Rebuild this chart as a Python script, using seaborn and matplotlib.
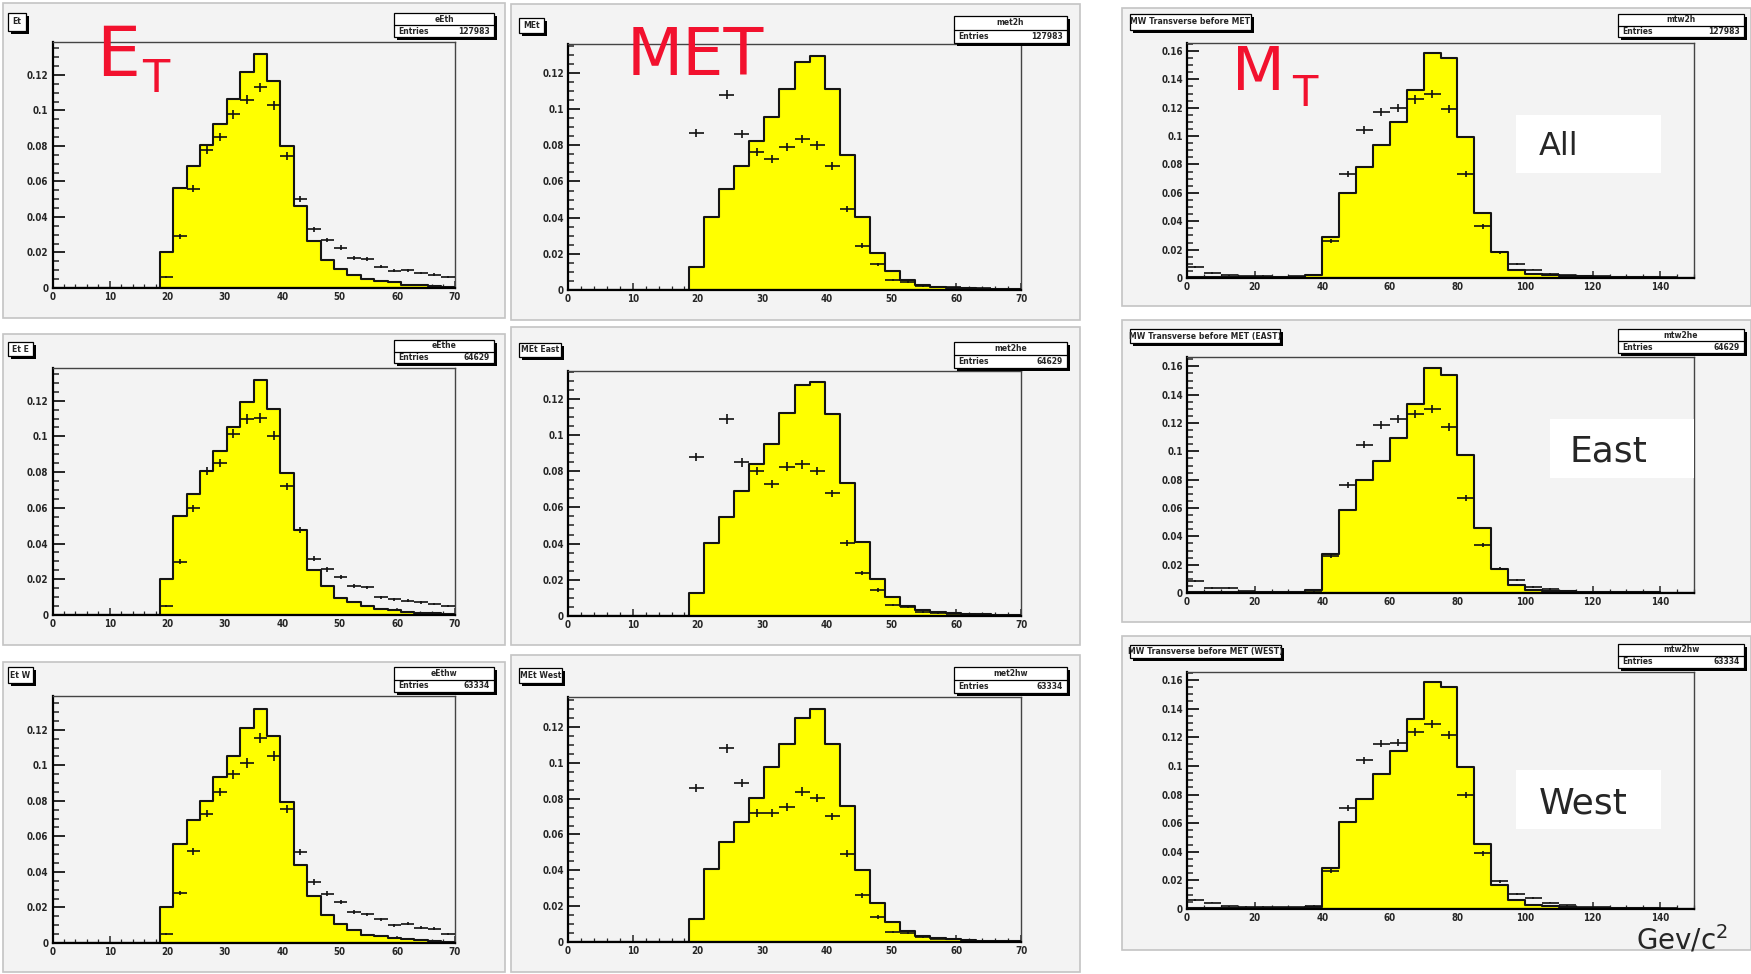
import numpy as np
import pandas as pd
import matplotlib
matplotlib.use("Agg")
import matplotlib.pyplot as plt
from matplotlib.patches import Rectangle
from matplotlib.lines import Line2D
from matplotlib.ticker import MultipleLocator, FuncFormatter
import seaborn as sns

nan = np.nan
W, H = 1751, 974

# ---------------- data (30 bins per histogram) ----------------
et_all_mc = [0, 0, 0, 0, 0, 0, 0, 0, 0.0202, 0.0564, 0.0688, 0.0807, 0.0925, 0.1063, 0.1215, 0.1318,
             0.1163, 0.0800, 0.0464, 0.0262, 0.0159, 0.0107, 0.0075, 0.0050, 0.0041, 0.0032, 0.0019,
             0.0017, 0.0009, 0.0006]
et_all_data = [nan] * 8 + [0.0060, 0.0290, 0.0560, 0.0776, 0.0850, 0.0978, 0.1060, 0.1130, 0.1028,
                           0.0742, 0.0500, 0.0330, 0.0270, 0.0228, 0.0168, 0.0163, 0.0121, 0.0097,
                           0.0099, 0.0084, 0.0075, 0.0060]
et_east_mc = [0, 0, 0, 0, 0, 0, 0, 0, 0.0200, 0.0557, 0.0677, 0.0807, 0.0920, 0.1050, 0.1193, 0.1314,
              0.1155, 0.0794, 0.0477, 0.0252, 0.0163, 0.0097, 0.0071, 0.0050, 0.0032, 0.0028, 0.0017,
              0.0013, 0.0009, 0.0007]
et_east_data = [nan] * 8 + [0.0052, 0.0299, 0.0598, 0.0807, 0.0850, 0.1015, 0.1097, 0.1103, 0.1004,
                            0.0720, 0.0477, 0.0314, 0.0256, 0.0215, 0.0163, 0.0155, 0.0099, 0.0088,
                            0.0080, 0.0071, 0.0062, 0.0050]
et_west_mc = [0, 0, 0, 0, 0, 0, 0, 0, 0.0203, 0.0559, 0.0690, 0.0797, 0.0934, 0.1050, 0.1211, 0.1316,
              0.1166, 0.0793, 0.0441, 0.0263, 0.0159, 0.0105, 0.0071, 0.0047, 0.0037, 0.0030, 0.0022,
              0.0019, 0.0011, 0.0008]
et_west_data = [nan] * 8 + [0.0049, 0.0281, 0.0516, 0.0728, 0.0849, 0.0949, 0.1013, 0.1153, 0.1052,
                            0.0756, 0.0512, 0.0343, 0.0278, 0.0231, 0.0173, 0.0161, 0.0133, 0.0099,
                            0.0109, 0.0086, 0.0081, 0.0053]

met_all_mc = [0, 0, 0, 0, 0, 0, 0, 0, 0.0129, 0.0406, 0.0557, 0.0683, 0.0821, 0.0956, 0.1113, 0.1261,
              0.1292, 0.1111, 0.0748, 0.0406, 0.0203, 0.0107, 0.0055, 0.0028, 0.0018, 0.0013, 0.0009,
              0.0006, 0.0004, 0.0004]
met_all_data = [nan] * 8 + [0.0868, nan, 0.1080, 0.0862, 0.0761, 0.0724, 0.0790, 0.0834, 0.0799,
                            0.0687, 0.0447, 0.0246, 0.0142, 0.0055, 0.0046, 0.0022, 0.0018, 0.0015,
                            0.0013, 0.0009, 0.0007, 0.0005]
met_east_mc = [0, 0, 0, 0, 0, 0, 0, 0, 0.0129, 0.0401, 0.0548, 0.0690, 0.0837, 0.0950, 0.1119, 0.1275,
               0.1290, 0.1114, 0.0736, 0.0410, 0.0202, 0.0103, 0.0055, 0.0033, 0.0022, 0.0015, 0.0011,
               0.0011, 0.0006, 0.0004]
met_east_data = [nan] * 8 + [0.0878, nan, 0.1088, 0.0848, 0.0802, 0.0727, 0.0825, 0.0837, 0.0802,
                             0.0677, 0.0401, 0.0236, 0.0144, 0.0061, 0.0048, 0.0022, 0.0015, 0.0011,
                             0.0009, 0.0007, 0.0005, 0.0004]
met_west_mc = [0, 0, 0, 0, 0, 0, 0, 0, 0.0128, 0.0409, 0.0558, 0.0670, 0.0806, 0.0977, 0.1107, 0.1250,
               0.1300, 0.1107, 0.0757, 0.0400, 0.0218, 0.0112, 0.0060, 0.0032, 0.0022, 0.0015, 0.0009,
               0.0006, 0.0005, 0.0004]
met_west_data = [nan] * 8 + [0.0860, nan, 0.1081, 0.0887, 0.0720, 0.0720, 0.0753, 0.0839, 0.0804,
                             0.0701, 0.0493, 0.0260, 0.0140, 0.0056, 0.0050, 0.0028, 0.0019, 0.0015,
                             0.0010, 0.0007, 0.0005, 0.0004]

mt_all_mc = [0.0005, 0.0004, 0.0004, 0.0005, 0.0004, 0.0005, 0.0006, 0.0020, 0.0288, 0.0602, 0.0780,
             0.0935, 0.1099, 0.1328, 0.1586, 0.1550, 0.0991, 0.0461, 0.0183, 0.0059, 0.0030, 0.0019,
             0.0014, 0.0012, 0.0009, 0.0007, 0.0005, 0.0004, 0.0003, 0.0003]
mt_all_data = [0.0075, 0.0035, 0.0020, 0.0012, 0.0016, 0.0010, 0.0012, 0.0019, 0.0262, 0.0733, 0.1042,
               0.1169, 0.1195, 0.1258, 0.1298, 0.1190, 0.0733, 0.0363, 0.0180, 0.0098, 0.0059, 0.0030,
               0.0020, 0.0014, 0.0012, 0.0007, 0.0007, 0.0005, 0.0005, 0.0003]
mt_east_mc = [0.0005, 0.0004, 0.0004, 0.0005, 0.0004, 0.0005, 0.0006, 0.0018, 0.0278, 0.0588, 0.0795,
              0.0929, 0.1096, 0.1332, 0.1588, 0.1541, 0.0976, 0.0461, 0.0172, 0.0054, 0.0024, 0.0016,
              0.0012, 0.0010, 0.0008, 0.0006, 0.0005, 0.0004, 0.0003, 0.0003]
mt_east_data = [0.0082, 0.0035, 0.0035, 0.0012, 0.0010, 0.0007, 0.0009, 0.0009, 0.0261, 0.0760, 0.1047,
                0.1184, 0.1230, 0.1266, 0.1301, 0.1172, 0.0673, 0.0336, 0.0172, 0.0089, 0.0042, 0.0028,
                0.0012, 0.0010, 0.0008, 0.0006, 0.0004, 0.0004, 0.0003, 0.0003]
mt_west_mc = [0.0005, 0.0004, 0.0004, 0.0005, 0.0004, 0.0005, 0.0006, 0.0014, 0.0287, 0.0607, 0.0766,
              0.0941, 0.1105, 0.1327, 0.1584, 0.1553, 0.0995, 0.0451, 0.0166, 0.0065, 0.0026, 0.0019,
              0.0014, 0.0010, 0.0008, 0.0006, 0.0005, 0.0004, 0.0003, 0.0003]
mt_west_data = [0.0065, 0.0044, 0.0019, 0.0017, 0.0017, 0.0014, 0.0014, 0.0023, 0.0266, 0.0703, 0.1039,
                0.1156, 0.1163, 0.1238, 0.1292, 0.1215, 0.0797, 0.0388, 0.0194, 0.0107, 0.0077, 0.0044,
                0.0026, 0.0014, 0.0012, 0.0008, 0.0006, 0.0005, 0.0004, 0.0003]

titles = ["Et", "Et E", "Et W",
          "MEt", "MEt East", "MEt West",
          "MW Transverse before MET", "MW Transverse before MET (EAST)", "MW Transverse before MET (WEST)"]
stat_names = ["eEth", "eEthe", "eEthw", "met2h", "met2he", "met2hw", "mtw2h", "mtw2he", "mtw2hw"]
entries = ["127983", "64629", "63334"]

et_range = (0, 70)
mt_range = (0, 150)
n_bins = 30

# ---------------- layout (pixels) ----------------
col_x = {0: (52.5, 454.5), 1: (568, 1021), 2: (1187, 1694)}
ax_y = {(0, 0): (42, 288), (0, 1): (368, 615), (0, 2): (696, 943),
        (1, 0): (44, 290), (1, 1): (371, 616), (1, 2): (697, 942),
        (2, 0): (43, 278), (2, 1): (357, 593), (2, 2): (672, 909)}
canvas = {(0, 0): (3, 3, 505, 318), (0, 1): (3, 334, 505, 645), (0, 2): (3, 662, 505, 972),
          (1, 0): (511, 4, 1080, 320), (1, 1): (511, 327, 1080, 645), (1, 2): (511, 655, 1080, 972),
          (2, 0): (1122, 8, 1751, 306), (2, 1): (1122, 320, 1751, 622), (2, 2): (1122, 636, 1751, 950)}
title_box = {(0, 0): (8, 13, 26, 31), (0, 1): (8, 342, 33, 356), (0, 2): (8, 667, 33, 683),
             (1, 0): (519, 18, 544, 33), (1, 1): (519, 343, 561, 357), (1, 2): (519, 668, 562, 683),
             (2, 0): (1130, 14, 1251, 30), (2, 1): (1130, 329, 1280, 343), (2, 2): (1130, 645, 1281, 658)}
stat_box = {(0, 0): (394, 13, 494, 37), (0, 1): (394, 340, 494, 363), (0, 2): (394, 667, 494, 692),
            (1, 0): (954, 16, 1067, 43), (1, 1): (954, 342, 1067, 368), (1, 2): (954, 667, 1067, 693),
            (2, 0): (1618, 14, 1744, 37), (2, 1): (1618, 329, 1744, 353), (2, 2): (1618, 644, 1744, 668)}

sns.set_style("white")
plt.rcParams["font.family"] = ["DejaVu Sans"]

fig = plt.figure(figsize=(W / 100, H / 100), dpi=100)
fig.patch.set_facecolor("white")

CANVAS = "#f3f3f3"
YELLOW = "#ffff00"


def fx(x):
    return x / W


def fy(y):
    return 1 - y / H


def rect(x0, y0, x1, y1, **kw):
    r = Rectangle((fx(x0), fy(y1)), (x1 - x0) / W, (y1 - y0) / H, transform=fig.transFigure, **kw)
    fig.add_artist(r)
    return r


def shadow_box(x0, y0, x1, y1, z=6):
    rect(x0 + 3, y0 + 3, x1 + 3, y1 + 3, facecolor="black", edgecolor="none", zorder=z)
    rect(x0, y0, x1, y1, facecolor="white", edgecolor="black", linewidth=0.9, zorder=z + 0.1)


mc_sets = [et_all_mc, et_east_mc, et_west_mc, met_all_mc, met_east_mc, met_west_mc,
           mt_all_mc, mt_east_mc, mt_west_mc]
data_sets = [et_all_data, et_east_data, et_west_data, met_all_data, met_east_data, met_west_data,
             mt_all_data, mt_east_data, mt_west_data]
ymaxes = [0.1385, 0.1383, 0.139, 0.136, 0.1353, 0.1367, 0.1656, 0.1666, 0.1656]

fmt = FuncFormatter(lambda v, p: "%g" % round(v, 4))

for i in range(9):
    col, row = i // 3, i % 3
    key = (col, row)
    cx0, cy0, cx1, cy1 = canvas[key]
    rect(cx0, cy0, cx1, cy1, facecolor=CANVAS, edgecolor="#c4c4c4", linewidth=1.2, zorder=-5)

    rng = mt_range if col == 2 else et_range
    width = (rng[1] - rng[0]) / n_bins
    centers = rng[0] + width * (np.arange(n_bins) + 0.5)
    half = 0.5 * width

    x0, x1 = col_x[col]
    y0, y1 = ax_y[key]
    ax = fig.add_axes([fx(x0), fy(y1), (x1 - x0) / W, (y1 - y0) / H])
    ax.set_facecolor(CANVAS)

    df = pd.DataFrame({"x": centers, "w": np.asarray(mc_sets[i], dtype=float)})
    sns.histplot(data=df, x="x", weights="w", bins=n_bins, binrange=rng, element="step", fill=True,
                 facecolor=YELLOW, edgecolor="#151515", alpha=1, linewidth=1.5, ax=ax)
    d = np.array(data_sets[i], dtype=float)
    ok = ~np.isnan(d)
    err = 0.008 * np.sqrt(d[ok])
    ax.errorbar(centers[ok], d[ok], xerr=half, yerr=err, fmt="none", ecolor="#111111",
                elinewidth=1.2, capsize=0, zorder=4)

    ax.set_xlim(*rng)
    ax.set_ylim(0, ymaxes[i])
    ax.set_xlabel("")
    ax.set_ylabel("")

    if col == 2:
        ax.xaxis.set_major_locator(MultipleLocator(20))
        ax.xaxis.set_minor_locator(MultipleLocator(5))
    else:
        ax.xaxis.set_major_locator(MultipleLocator(10))
        ax.xaxis.set_minor_locator(MultipleLocator(2))
    ax.yaxis.set_major_locator(MultipleLocator(0.02))
    ax.yaxis.set_minor_locator(MultipleLocator(0.005))
    ax.yaxis.set_major_formatter(fmt)
    ax.xaxis.set_major_formatter(FuncFormatter(lambda v, p: "%d" % v))

    ax.tick_params(axis="y", which="major", direction="in", length=8.5, width=1.4,
                   labelsize=7, pad=3, left=True, right=False)
    ax.tick_params(axis="y", which="minor", direction="in", length=4.3, width=1.1, left=True, right=False)
    ax.tick_params(axis="x", which="major", direction="in", length=5, width=1.1,
                   labelsize=7, pad=3, bottom=True, top=False)
    ax.tick_params(axis="x", which="minor", direction="in", length=2.6, width=0.9, bottom=True, top=False)
    for lab in ax.get_xticklabels() + ax.get_yticklabels():
        lab.set_fontweight("bold")
        lab.set_fontstretch("condensed")

    for s in ["left", "bottom"]:
        ax.spines[s].set_color("black")
        ax.spines[s].set_linewidth(1.6)
    for s in ["top", "right"]:
        ax.spines[s].set_color("#444444")
        ax.spines[s].set_linewidth(1.0)
    ax.spines["bottom"].set_zorder(5)

    # title box
    tx0, ty0, tx1, ty1 = title_box[key]
    shadow_box(tx0, ty0, tx1, ty1)
    fig.text(fx(0.5 * (tx0 + tx1)), fy(0.5 * (ty0 + ty1)), titles[i], ha="center", va="center",
             fontsize=6.2, fontweight="bold", zorder=8, fontstretch="condensed")

    # stat box
    sx0, sy0, sx1, sy1 = stat_box[key]
    shadow_box(sx0, sy0, sx1, sy1)
    ym = 0.5 * (sy0 + sy1)
    fig.add_artist(Line2D([fx(sx0), fx(sx1)], [fy(ym), fy(ym)], transform=fig.transFigure,
                          color="black", linewidth=0.9, zorder=7))
    fig.text(fx(0.5 * (sx0 + sx1)), fy(0.5 * (sy0 + ym)), stat_names[i], ha="center", va="center",
             fontsize=5.5, fontweight="bold", zorder=8)
    fig.text(fx(sx0 + 4), fy(0.5 * (ym + sy1)), "Entries", ha="left", va="center",
             fontsize=5.5, fontweight="bold", zorder=8)
    fig.text(fx(sx1 - 4), fy(0.5 * (ym + sy1)), entries[row], ha="right", va="center",
             fontsize=5.5, fontweight="bold", zorder=8)

# ---------------- annotations ----------------
RED = "#f2112e"
fig.text(fx(96), fy(76), "E", color=RED, fontsize=50, ha="left", va="baseline", zorder=9)
fig.text(fx(142), fy(92), "T", color=RED, fontsize=32, ha="left", va="baseline", zorder=9)
fig.text(fx(627), fy(75), "MET", color=RED, fontsize=47, ha="left", va="baseline", zorder=9)
fig.text(fx(1232), fy(90), "M", color=RED, fontsize=44, ha="left", va="baseline", zorder=9)
fig.text(fx(1292), fy(106), "T", color=RED, fontsize=30, ha="left", va="baseline", zorder=9)

rect(1516, 115, 1661, 173, facecolor="white", edgecolor="none", zorder=7)
fig.text(fx(1539), fy(155), "All", fontsize=23, ha="left", va="baseline", zorder=9)
rect(1550, 419, 1694, 478, facecolor="white", edgecolor="none", zorder=7)
fig.text(fx(1569), fy(462), "East", fontsize=26, ha="left", va="baseline", zorder=9)
rect(1516, 770, 1661, 829, facecolor="white", edgecolor="none", zorder=7)
fig.text(fx(1539), fy(813), "West", fontsize=26, ha="left", va="baseline", zorder=9)
fig.text(fx(1636), fy(949), r"Gev/c$^2$", fontsize=20, ha="left", va="baseline", zorder=9)

fig.savefig("out.png", dpi=100, facecolor="white")
